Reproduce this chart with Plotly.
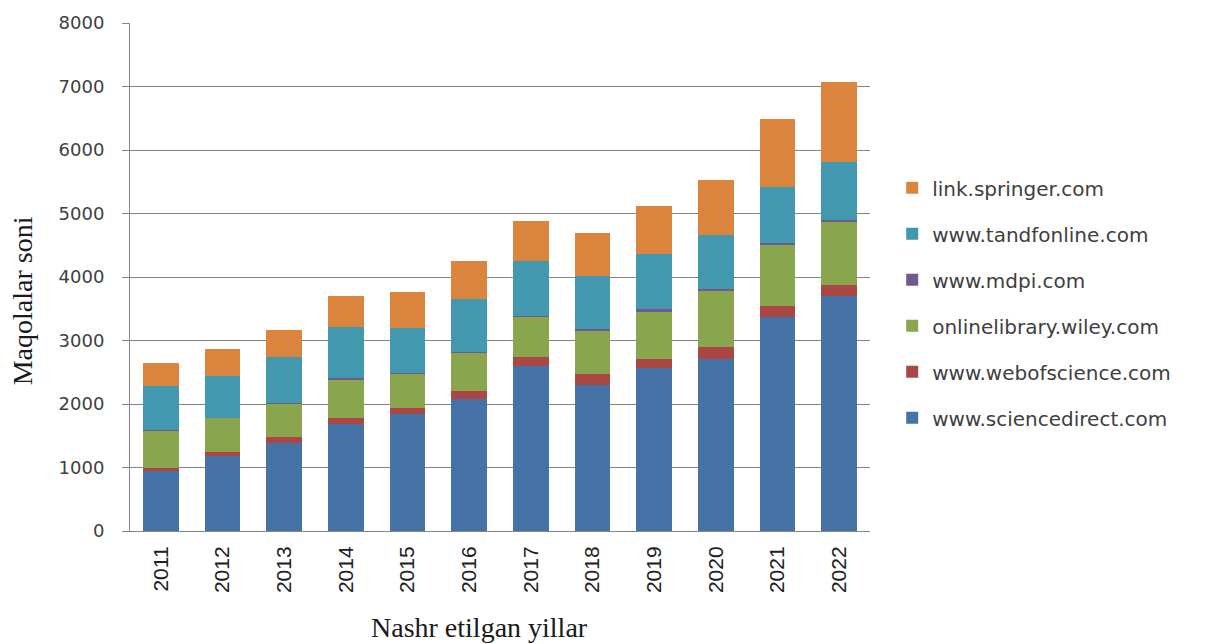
import plotly.graph_objects as go

years = ["2011", "2012", "2013", "2014", "2015", "2016", "2017", "2018", "2019", "2020", "2021", "2022"]
sciencedirect = [940, 1180, 1385, 1690, 1845, 2085, 2600, 2300, 2570, 2710, 3370, 3700]
webofscience = [50, 60, 95, 90, 85, 120, 145, 180, 140, 180, 180, 180]
wiley = [600, 540, 530, 600, 545, 600, 630, 685, 750, 895, 955, 995]
mdpi = [5, 5, 10, 30, 10, 10, 10, 10, 30, 30, 35, 30]
tandfonline = [685, 655, 720, 810, 715, 835, 870, 835, 875, 845, 875, 900]
springer = [360, 420, 420, 480, 570, 605, 625, 690, 750, 870, 1080, 1260]

series = [
    ("www.sciencedirect.com", sciencedirect, "#4572A7"),
    ("www.webofscience.com", webofscience, "#AA4643"),
    ("onlinelibrary.wiley.com", wiley, "#89A54E"),
    ("www.mdpi.com", mdpi, "#71588F"),
    ("www.tandfonline.com", tandfonline, "#4198AF"),
    ("link.springer.com", springer, "#DB843D"),
]

fig = go.Figure()
n = len(series)
for i, (name, vals, col) in enumerate(series):
    fig.add_trace(go.Bar(x=years, y=vals, name=name, legendgroup=name,
                         legendrank=1000 + (n - i),
                         marker=dict(color=col, line=dict(width=0))))

fig.update_layout(
    barmode="stack",
    bargap=0.42,
    width=1206, height=644,
    margin=dict(l=130, r=336, t=18, b=113),
    paper_bgcolor="white", plot_bgcolor="white",
    font=dict(family="DejaVu Sans", color="#404040"),
    legend=dict(
        x=1.03, y=0.714, xanchor="left", yanchor="top",
        traceorder="grouped", tracegroupgap=17,
        font=dict(family="DejaVu Sans", size=20, color="#404040"),
        itemwidth=30,
    ),
    showlegend=True,
    annotations=[
        dict(text="Maqolalar soni", xref="paper", yref="paper",
             x=-0.146, y=0.454, xanchor="center", yanchor="middle",
             textangle=-90, showarrow=False,
             font=dict(family="Liberation Serif", size=28, color="#1a1a1a")),
        dict(text="Nashr etilgan yillar", xref="paper", yref="paper",
             x=0.472, y=-0.189, xanchor="center", yanchor="middle",
             showarrow=False,
             font=dict(family="Liberation Serif", size=28, color="#1a1a1a")),
    ],
)
fig.update_xaxes(
    showline=True, linecolor="#868686", linewidth=1,
    tickangle=-90, tickfont=dict(family="Liberation Sans", size=21, color="#202020"),
    ticks="", showgrid=False, ticklabelstandoff=6,
)
fig.update_yaxes(
    range=[0, 8000], dtick=1000,
    showline=True, linecolor="#868686", linewidth=1,
    showgrid=True, gridcolor="#868686", gridwidth=1,
    ticks="outside", ticklen=7, tickcolor="#868686",
    tickfont=dict(family="DejaVu Sans", size=18, color="#404040"),
    ticklabelstandoff=14,
    zeroline=False,
)

fig.write_html("out.html")
